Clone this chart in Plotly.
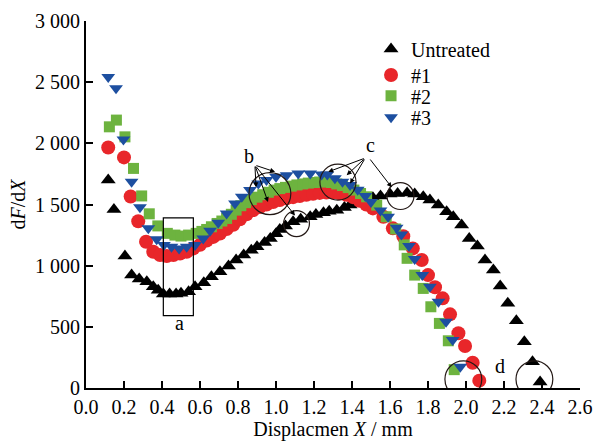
import plotly.graph_objects as go

# ---------------- data ----------------
untreated_x = [0.117, 0.147, 0.205, 0.24, 0.28, 0.32, 0.354, 0.38, 0.407, 0.44, 0.474, 0.50, 0.54, 0.574,
               0.62, 0.66, 0.705, 0.75, 0.79, 0.83, 0.87, 0.90, 0.94, 0.97, 1.00, 1.02, 1.05, 1.09, 1.13,
               1.18, 1.21, 1.25, 1.28, 1.32, 1.36, 1.39, 1.425, 1.46, 1.51, 1.55, 1.60, 1.64, 1.69, 1.73,
               1.775, 1.81, 1.854, 1.898, 1.933, 1.977, 2.017, 2.06, 2.10, 2.144, 2.18, 2.22, 2.265, 2.307,
               2.35, 2.39]
untreated_y = [1700, 1460, 1078, 923, 890, 868, 828, 800, 768, 768, 768, 774, 787, 828,
               860, 909, 950, 997, 1046, 1087, 1127, 1154, 1190, 1223, 1260, 1296, 1325, 1359, 1380,
               1400, 1418, 1432, 1445, 1454, 1475, 1495, 1509, 1530, 1555, 1570, 1585, 1590, 1595, 1585,
               1563, 1536, 1495, 1440, 1400, 1332, 1223, 1160, 1046, 964, 833, 692, 550, 378,
               215, 49]

s1_x = [0.117, 0.20, 0.235, 0.275, 0.316, 0.354, 0.39, 0.425, 0.46, 0.495, 0.53, 0.565, 0.60, 0.635,
        0.67, 0.705, 0.74, 0.775, 0.81, 0.845, 0.88, 0.915, 0.95, 0.985, 1.02, 1.055, 1.09, 1.125,
        1.16, 1.195, 1.23, 1.265, 1.30, 1.335, 1.37, 1.405, 1.44, 1.475, 1.51, 1.565, 1.615, 1.67,
        1.72, 1.767, 1.80, 1.837, 1.877, 1.916, 1.96, 1.995, 2.035, 2.07]
s1_y = [1966, 1885, 1566, 1363, 1195, 1114, 1087, 1078, 1087, 1100, 1114, 1141, 1170, 1205,
        1235, 1262, 1300, 1335, 1380, 1420, 1455, 1480, 1500, 1520, 1537, 1550, 1560, 1570,
        1580, 1588, 1595, 1598, 1598, 1592, 1580, 1560, 1530, 1500, 1468, 1400, 1305, 1240,
        1141, 1046, 923, 823, 733, 602, 447, 343, 207, 60]

s2_x = [0.123, 0.16, 0.205, 0.25, 0.293, 0.333, 0.378, 0.428, 0.468, 0.50, 0.54, 0.58, 0.61, 0.635,
        0.66, 0.69, 0.715, 0.74, 0.765, 0.79, 0.815, 0.84, 0.87, 0.90, 0.93, 0.96, 0.99, 1.02,
        1.05, 1.08, 1.11, 1.14, 1.17, 1.20, 1.23, 1.26, 1.29, 1.32, 1.35, 1.38, 1.41, 1.445,
        1.477, 1.53, 1.58, 1.63, 1.675, 1.69, 1.73, 1.775, 1.815, 1.86, 1.907, 1.938]
s2_y = [2135, 2190, 2053, 1795, 1570, 1424, 1325, 1264, 1250, 1242, 1250, 1264, 1280, 1296,
        1318, 1345, 1365, 1386, 1420, 1454, 1490, 1515, 1540, 1560, 1580, 1600, 1618, 1630,
        1640, 1650, 1660, 1668, 1675, 1680, 1684, 1686, 1680, 1668, 1655, 1638, 1618, 1590,
        1563, 1495, 1400, 1300, 1170, 1060, 923, 814, 664, 528, 386, 150]

s3_x = [0.117, 0.158, 0.197, 0.24, 0.284, 0.328, 0.372, 0.41, 0.45, 0.49, 0.53, 0.574, 0.617, 0.653,
        0.696, 0.74, 0.784, 0.82, 0.863, 0.907, 0.95, 1.00, 1.056, 1.117, 1.18, 1.24, 1.27, 1.31,
        1.35, 1.39, 1.43, 1.47, 1.50, 1.55, 1.59, 1.635, 1.66, 1.70, 1.73, 1.77, 1.81, 1.855,
        1.895, 1.93, 1.97]
s3_y = [2543, 2450, 2031, 1685, 1478, 1305, 1215, 1168, 1154, 1141, 1154, 1168, 1223, 1285,
        1350, 1427, 1509, 1563, 1618, 1672, 1700, 1727, 1740, 1754, 1754, 1745, 1745, 1715,
        1685, 1660, 1620, 1570, 1520, 1450, 1400, 1310, 1255, 1160, 1055, 923, 828, 705,
        542, 392, 174]

x_ticks = [0.0, 0.2, 0.4, 0.6, 0.8, 1.0, 1.2, 1.4, 1.6, 1.8, 2.0, 2.2, 2.4, 2.6]
y_ticks = [0, 500, 1000, 1500, 2000, 2500, 3000]

# ---------------- figure ----------------
SERIF = "Liberation Serif"
RED = "#E8262A"
GREEN = "#6DB33F"
BLUE = "#1D4FA0"

fig = go.Figure()
fig.add_trace(go.Scatter(x=untreated_x, y=untreated_y, mode="markers", name="Untreated", legend="legend",
                         marker=dict(symbol="triangle-up", size=13, color="black")))
fig.add_trace(go.Scatter(x=s1_x, y=s1_y, mode="markers", name="#1", legend="legend2",
                         marker=dict(symbol="circle", size=14, color=RED)))
fig.add_trace(go.Scatter(x=s2_x, y=s2_y, mode="markers", name="#2", legend="legend3",
                         marker=dict(symbol="square", size=11, color=GREEN)))
fig.add_trace(go.Scatter(x=s3_x, y=s3_y, mode="markers", name="#3", legend="legend4",
                         marker=dict(symbol="triangle-down", size=12, color=BLUE)))

# annotation circles (centre x, centre y, radius in x units, radius in y units)
circles = [(0.968, 1589, 0.110, 172), (1.108, 1344, 0.068, 106), (1.326, 1683, 0.095, 147),
           (1.655, 1569, 0.071, 110), (1.986, 71, 0.097, 151), (2.36, 71, 0.097, 151)]
shapes = []
for cx, cy, rx, ry in circles:
    shapes.append(dict(type="circle", xref="x", yref="y", x0=cx - rx, x1=cx + rx, y0=cy - ry, y1=cy + ry,
                       line=dict(color="#231815", width=1.2)))
shapes.append(dict(type="rect", xref="x", yref="y", x0=0.407, x1=0.565, y0=591, y1=1391,
                   line=dict(color="black", width=1.2)))

annotations = []
for txt, x, y in [("a", 0.49, 530), ("b", 0.86, 1895), ("c", 1.495, 1990), ("d", 2.18, 180)]:
    annotations.append(dict(text=txt, x=x, y=y, xref="x", yref="y", showarrow=False,
                            font=dict(family=SERIF, size=20, color="black")))
arrows = [((0.889, 1822), (0.995, 1767)), ((0.889, 1822), (0.895, 1640)), ((0.889, 1822), (0.958, 1520)),
          ((0.889, 1822), (1.10, 1410)),
          ((1.47, 1880), (1.275, 1767)), ((1.47, 1880), (1.372, 1740)), ((1.47, 1880), (1.39, 1672)),
          ((1.49, 1880), (1.609, 1640))]
for (tx, ty), (hx, hy) in arrows:
    annotations.append(dict(text="", x=hx, y=hy, ax=tx, ay=ty, xref="x", yref="y", axref="x", ayref="y",
                            showarrow=True, arrowhead=2, arrowsize=1, arrowwidth=1, arrowcolor="black"))

def leg(y):
    return dict(x=0.577, y=y, xanchor="left", yanchor="middle", bgcolor="rgba(0,0,0,0)",
                font=dict(family=SERIF, size=20, color="black"), itemwidth=30, borderwidth=0)

fig.update_layout(
    width=602, height=441,
    margin=dict(l=86, r=22, t=21, b=53),
    paper_bgcolor="white", plot_bgcolor="white",
    separators=". ",
    font=dict(family=SERIF, size=19, color="black"),
    showlegend=True,
    legend=leg(0.924), legend2=leg(0.853), legend3=leg(0.796), legend4=leg(0.738),
    shapes=shapes,
    annotations=annotations,
)
fig.update_xaxes(range=[0, 2.6], tickvals=x_ticks, tickformat=".1f", ticks="inside", ticklen=7,
                 tickwidth=1.5, tickcolor="black", showline=True, linecolor="black", linewidth=1.8,
                 showgrid=False, zeroline=False, tickfont=dict(family=SERIF, size=20), automargin=False,
                 title=dict(text="Displacmen <i>X</i> / mm", font=dict(family=SERIF, size=20), standoff=6))
fig.update_yaxes(range=[0, 3000], tickvals=y_ticks, tickformat=",d", ticks="inside", ticklen=7,
                 tickwidth=1.5, tickcolor="black", showline=True, linecolor="black", linewidth=1.8,
                 showgrid=False, zeroline=False, tickfont=dict(family=SERIF, size=20), automargin=False,
                 title=dict(text="d<i>F</i>/d<i>X</i>", font=dict(family=SERIF, size=20), standoff=4))

fig.write_html("out.html")
